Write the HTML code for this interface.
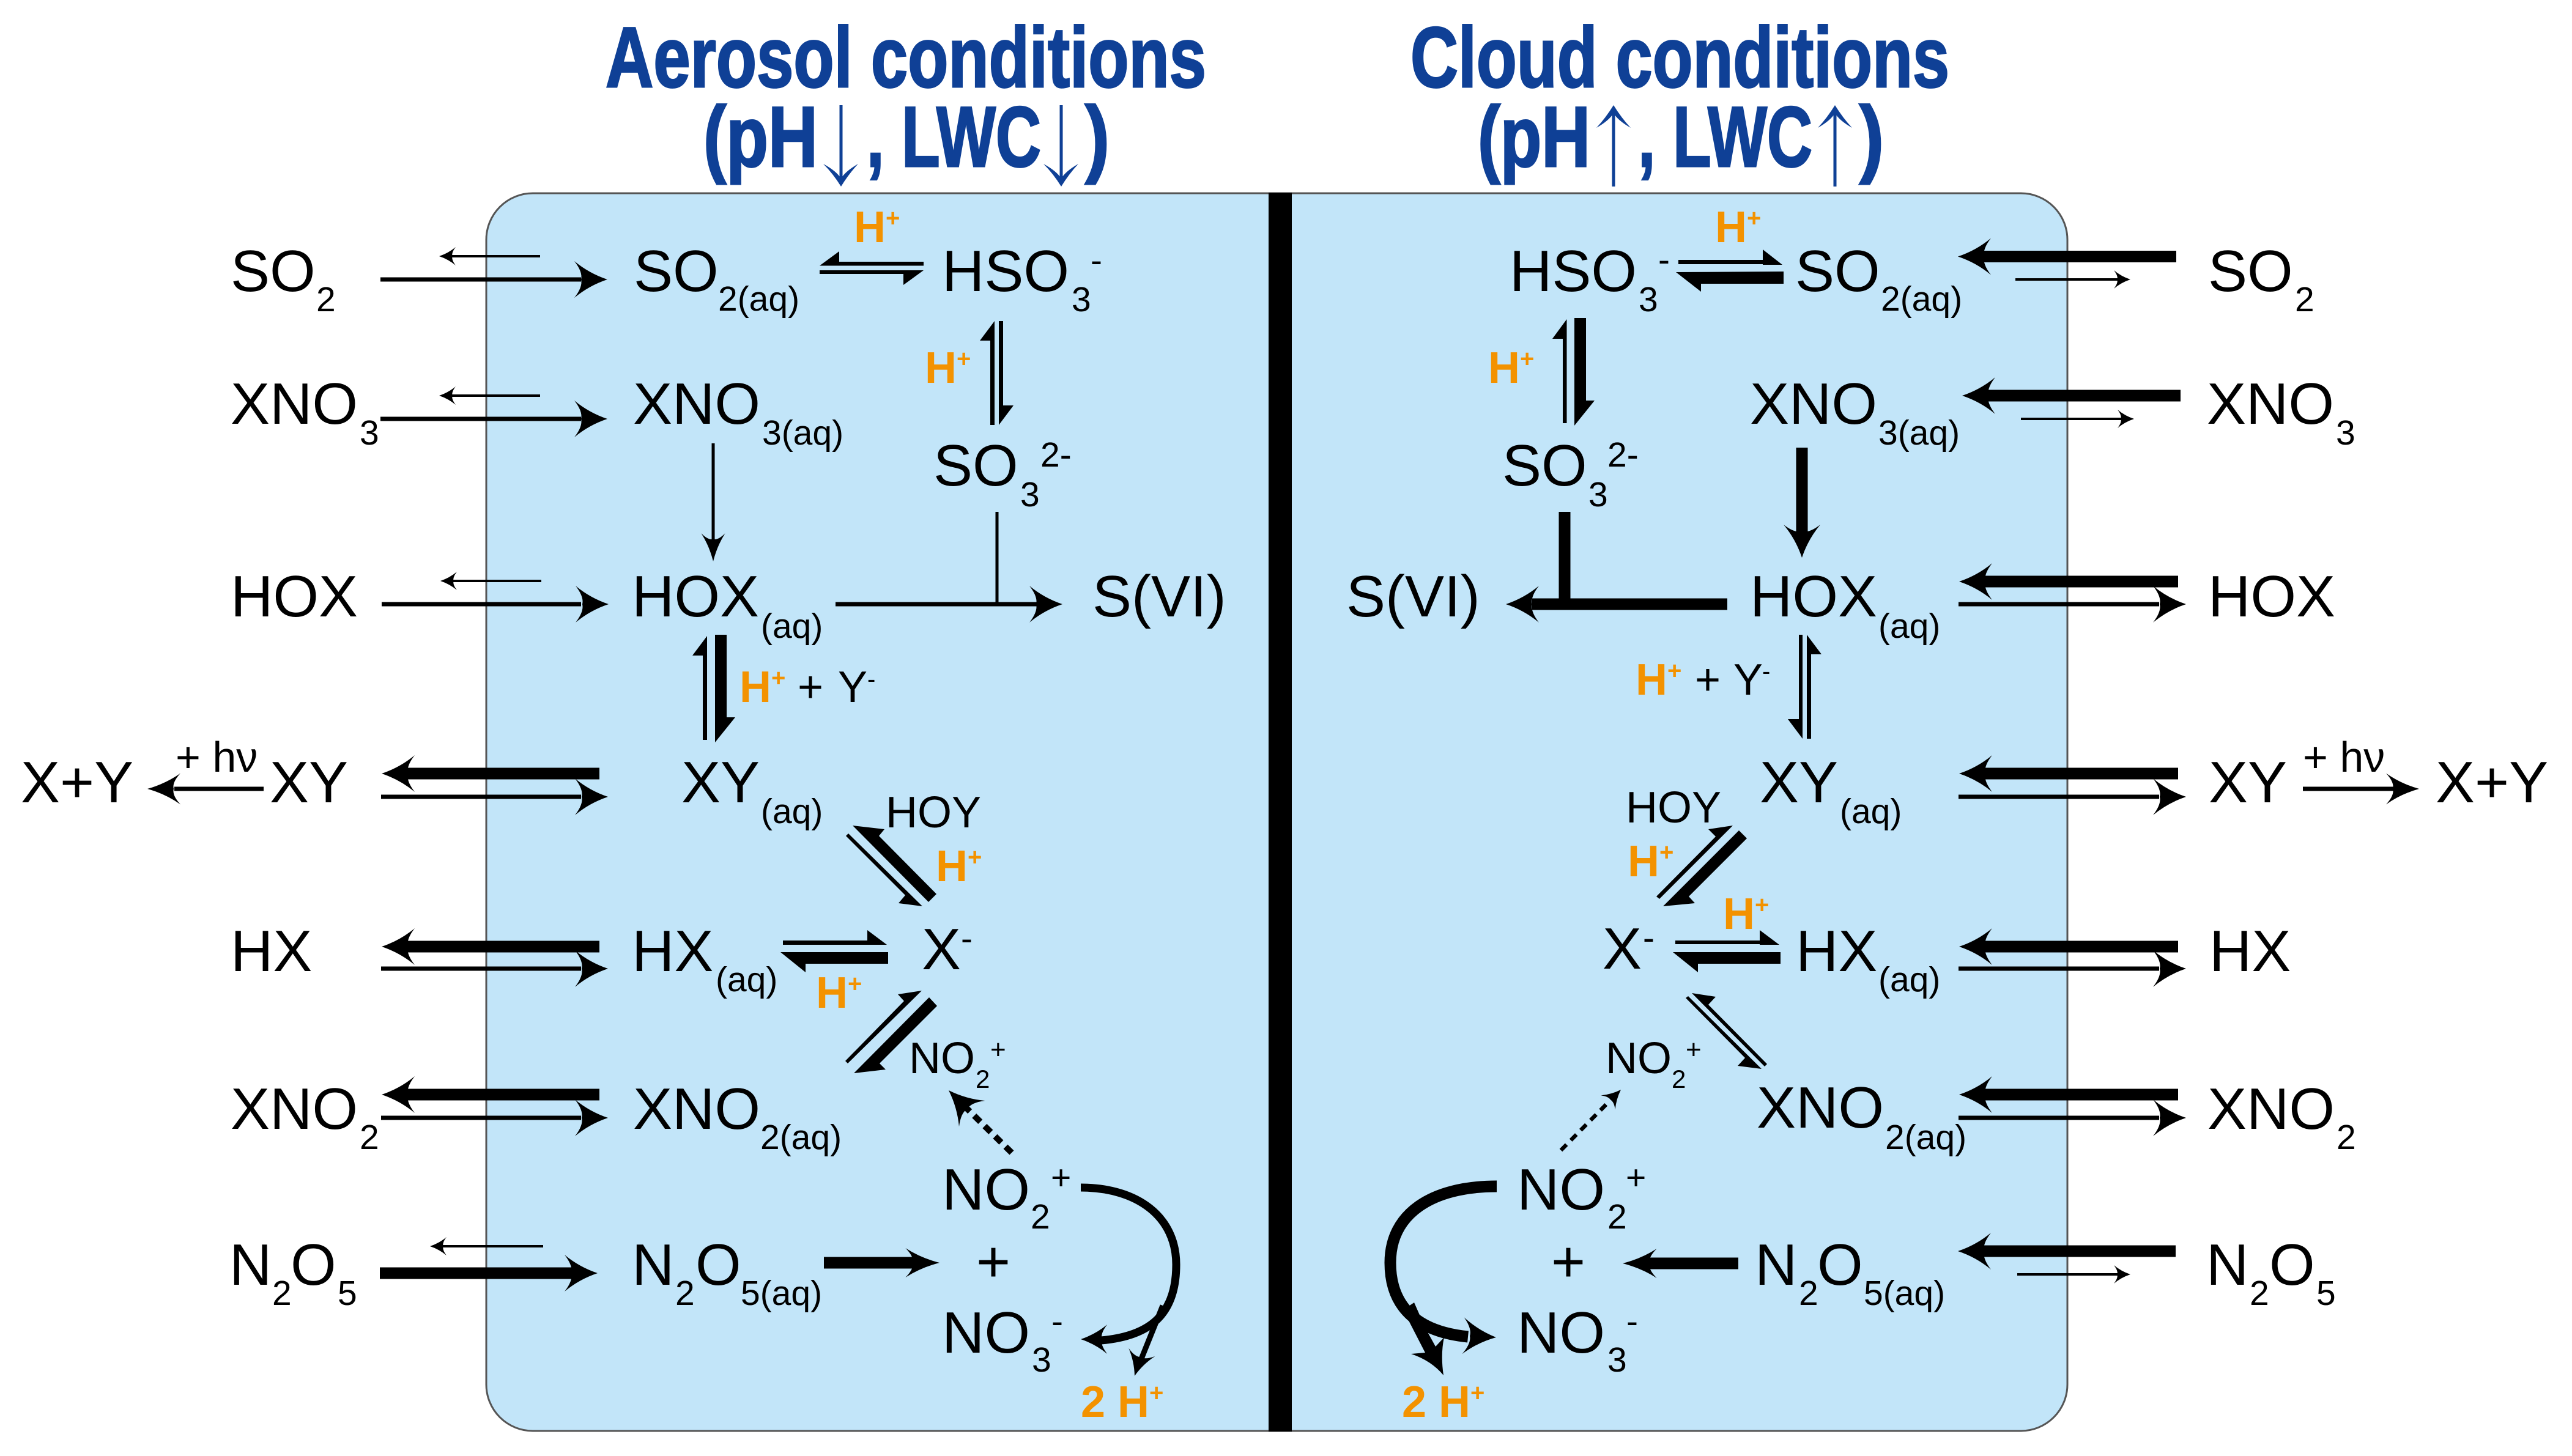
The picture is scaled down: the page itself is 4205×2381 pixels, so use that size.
<!DOCTYPE html>
<html lang="en">
<head>
<meta charset="utf-8">
<title>Aerosol and cloud conditions</title>
<style>
html,body{margin:0;padding:0;background:#fff}
svg{display:block}
text{font-family:"Liberation Sans",sans-serif;fill:#000}
text.m{font-size:96px;transform:translateY(-2px)}
tspan.m{font-size:96px}
.s{font-size:57px}
.n{font-size:72px}
.q{font-size:42px}
.o{font-size:72px;font-weight:700;fill:#f39200}
.p{font-size:40px;font-weight:700;fill:#f39200}
text.t{font-size:140px;font-weight:700;fill:#0f4096;stroke:#0f4096;stroke-width:3;transform:translateY(-2px)}
.a{fill:none;stroke:#000}
.w3{stroke-width:4}
.w7{stroke-width:7}
.w19{stroke-width:19}
.b{fill:none;stroke:#0f4096;stroke-width:5}
.bh{fill:#0f4096}
</style>
</head>
<body>
<svg xmlns="http://www.w3.org/2000/svg" width="4205" height="2381" viewBox="0 0 4205 2381">
<defs>
<path id="h" d="M0,0 Q-30,-10 -54,-30 Q-40,-12 -43,0 Q-40,12 -54,30 Q-30,10 0,0Z"/>
</defs>
<rect width="4205" height="2381" fill="#fff"/>
<rect x="795" y="316" width="2585" height="2024" rx="76" ry="76" fill="#c2e5f9" stroke="#555" stroke-width="3"/>
<rect x="2074" y="315" width="38" height="2026" fill="#000"/>

<!-- titles -->
<text class="t" x="990" y="144" textLength="982" lengthAdjust="spacingAndGlyphs">Aerosol conditions</text>
<text class="t" x="1150" y="274" textLength="187" lengthAdjust="spacingAndGlyphs">(pH</text>
<text class="t" x="1417" y="274" textLength="285" lengthAdjust="spacingAndGlyphs">, LWC</text>
<text class="t" x="1774" y="274" textLength="40" lengthAdjust="spacingAndGlyphs">)</text>
<text class="t" x="2306" y="144" textLength="881" lengthAdjust="spacingAndGlyphs">Cloud conditions</text>
<text class="t" x="2416" y="274" textLength="184" lengthAdjust="spacingAndGlyphs">(pH</text>
<text class="t" x="2678" y="274" textLength="285" lengthAdjust="spacingAndGlyphs">, LWC</text>
<text class="t" x="3040" y="274" textLength="40" lengthAdjust="spacingAndGlyphs">)</text>
<path class="b" d="M1375 172V296M1735 172V296M2638 180V305M3000 180V305"/>
<path class="bh" d="M1375,305 Q1362,284 1346,268 Q1368,280 1375,292 Q1382,280 1403,268 Q1388,284 1375,305Z"/>
<path class="bh" d="M1735,305 Q1722,284 1706,268 Q1728,280 1735,292 Q1742,280 1763,268 Q1748,284 1735,305Z"/>
<path class="bh" d="M2638,172 Q2625,193 2610,209 Q2631,197 2638,185 Q2645,197 2666,209 Q2651,193 2638,172Z"/>
<path class="bh" d="M3000,172 Q2987,193 2972,209 Q2993,197 3000,185 Q3007,197 3028,209 Q3013,193 3000,172Z"/>

<!-- left gas species -->
<text class="m" x="377" y="478">SO<tspan class="s" x="517" y="511">2</tspan></text>
<text class="m" x="377" y="695">XNO<tspan class="s" x="588" y="729">3</tspan></text>
<text class="m" x="377" y="1010">HOX</text>
<text class="m" x="34" y="1314">X+Y</text>
<text class="n" x="287" y="1262" style="font-size:70px">+ hν</text>
<text class="m" x="441" y="1314">XY</text>
<text class="m" x="377" y="1590">HX</text>
<text class="m" x="377" y="1848">XNO<tspan class="s" x="588" y="1881">2</tspan></text>
<text class="m" x="375" y="2103">N<tspan class="s" x="445" y="2136">2</tspan><tspan class="m" x="475" y="2103">O</tspan><tspan class="s" x="552" y="2136">5</tspan></text>

<!-- left aqueous species -->
<text class="m" x="1036" y="478">SO<tspan class="s" x="1174" y="510">2(aq)</tspan></text>
<text class="m" x="1035" y="695">XNO<tspan class="s" x="1246" y="729">3(aq)</tspan></text>
<text class="m" x="1033" y="1010">HOX<tspan class="s" x="1244" y="1045">(aq)</tspan></text>
<text class="m" x="1114" y="1314">XY<tspan class="s" x="1244" y="1348">(aq)</tspan></text>
<text class="m" x="1033" y="1590">HX<tspan class="s" x="1170" y="1623">(aq)</tspan></text>
<text class="m" x="1035" y="1848">XNO<tspan class="s" x="1243" y="1881">2(aq)</tspan></text>
<text class="m" x="1033" y="2103">N<tspan class="s" x="1104" y="2136">2</tspan><tspan class="m" x="1137" y="2103">O</tspan><tspan class="s" x="1211" y="2136">5(aq)</tspan></text>
<text class="m" x="1540" y="478">HSO<tspan class="s" x="1752" y="511">3</tspan><tspan class="s" x="1783" y="447">-</tspan></text>
<text class="m" x="1526" y="796">SO<tspan class="s" x="1668" y="830">3</tspan><tspan class="s" x="1701" y="765">2-</tspan></text>
<text class="m" x="1786" y="1010">S(VI)</text>
<text class="n" x="1448" y="1353">HOY</text>
<text class="m" x="1507" y="1587">X<tspan class="s" x="1571" y="1556">-</tspan></text>
<text class="n" x="1486" y="1755">NO<tspan class="q" x="1595" y="1779">2</tspan><tspan style="font-size:44px" x="1619" y="1731">+</tspan></text>
<text class="m" x="1540" y="1980">NO<tspan class="s" x="1685" y="2011">2</tspan><tspan class="s" x="1718" y="1947">+</tspan></text>
<text class="m" x="1596" y="2098">+</text>
<text class="m" x="1540" y="2214">NO<tspan class="s" x="1687" y="2245">3</tspan><tspan class="s" x="1719" y="2182">-</tspan></text>

<!-- left H+ -->
<text class="o" x="1396" y="396">H<tspan class="p" dy="-26">+</tspan></text>
<text class="o" x="1512" y="626">H<tspan class="p" dy="-26">+</tspan></text>
<text class="o" x="1209" y="1148">H<tspan class="p" dy="-26">+</tspan></text>
<text class="n" x="1304" y="1148">+</text>
<text class="n" x="1370" y="1148">Y</text>
<text x="1418" y="1124" style="font-size:40px">-</text>
<text class="o" x="1530" y="1441">H<tspan class="p" dy="-26">+</tspan></text>
<text class="o" x="1334" y="1648">H<tspan class="p" dy="-26">+</tspan></text>
<text class="o" x="1767" y="2317">2 H<tspan class="p" dy="-26">+</tspan></text>

<!-- right aqueous species -->
<text class="m" x="2468" y="478">HSO<tspan class="s" x="2679" y="511">3</tspan><tspan class="s" x="2711" y="446">-</tspan></text>
<text class="m" x="2935" y="478">SO<tspan class="s" x="3075" y="510">2(aq)</tspan></text>
<text class="m" x="2861" y="695">XNO<tspan class="s" x="3071" y="729">3(aq)</tspan></text>
<text class="m" x="2456" y="796">SO<tspan class="s" x="2597" y="830">3</tspan><tspan class="s" x="2628" y="765">2-</tspan></text>
<text class="m" x="2201" y="1010">S(VI)</text>
<text class="m" x="2861" y="1010">HOX<tspan class="s" x="3071" y="1045">(aq)</tspan></text>
<text class="m" x="2877" y="1314">XY<tspan class="s" x="3008" y="1348">(aq)</tspan></text>
<text class="n" x="2658" y="1345">HOY</text>
<text class="m" x="2620" y="1586">X<tspan class="s" x="2686" y="1555">-</tspan></text>
<text class="m" x="2936" y="1590">HX<tspan class="s" x="3071" y="1623">(aq)</tspan></text>
<text class="n" x="2625" y="1755">NO<tspan class="q" x="2733" y="1779">2</tspan><tspan style="font-size:44px" x="2756" y="1731">+</tspan></text>
<text class="m" x="2872" y="1846">XNO<tspan class="s" x="3082" y="1881">2(aq)</tspan></text>
<text class="m" x="2480" y="1980">NO<tspan class="s" x="2628" y="2011">2</tspan><tspan class="s" x="2658" y="1947">+</tspan></text>
<text class="m" x="2536" y="2098">+</text>
<text class="m" x="2480" y="2214">NO<tspan class="s" x="2628" y="2245">3</tspan><tspan class="s" x="2659" y="2182">-</tspan></text>
<text class="m" x="2869" y="2103">N<tspan class="s" x="2941" y="2136">2</tspan><tspan class="m" x="2971" y="2103">O</tspan><tspan class="s" x="3047" y="2136">5(aq)</tspan></text>

<!-- right gas species -->
<text class="m" x="3610" y="478">SO<tspan class="s" x="3752" y="511">2</tspan></text>
<text class="m" x="3608" y="695">XNO<tspan class="s" x="3819" y="729">3</tspan></text>
<text class="m" x="3610" y="1010">HOX</text>
<text class="m" x="3611" y="1314">XY</text>
<text class="n" x="3765" y="1262" style="font-size:70px">+ hν</text>
<text class="m" x="3982" y="1314">X+Y</text>
<text class="m" x="3612" y="1590">HX</text>
<text class="m" x="3609" y="1848">XNO<tspan class="s" x="3820" y="1881">2</tspan></text>
<text class="m" x="3607" y="2103">N<tspan class="s" x="3678" y="2136">2</tspan><tspan class="m" x="3710" y="2103">O</tspan><tspan class="s" x="3787" y="2136">5</tspan></text>

<!-- right H+ -->
<text class="o" x="2804" y="396">H<tspan class="p" dy="-26">+</tspan></text>
<text class="o" x="2433" y="626">H<tspan class="p" dy="-26">+</tspan></text>
<text class="o" x="2674" y="1136">H<tspan class="p" dy="-26">+</tspan></text>
<text class="n" x="2771" y="1136">+</text>
<text class="n" x="2834" y="1136">Y</text>
<text x="2881" y="1111" style="font-size:40px">-</text>
<text class="o" x="2661" y="1433">H<tspan class="p" dy="-26">+</tspan></text>
<text class="o" x="2817" y="1519">H<tspan class="p" dy="-26">+</tspan></text>
<text class="o" x="2292" y="2317">2 H<tspan class="p" dy="-26">+</tspan></text>

<!-- left exchange arrows: thin -->
<path class="a w3" d="M883 419H735M883 647H735M885 950H737M888 2038H720"/>
<use href="#h" transform="translate(718,419) rotate(180) scale(.5)"/>
<use href="#h" transform="translate(718,647) rotate(180) scale(.5)"/>
<use href="#h" transform="translate(720,950) rotate(180) scale(.5)"/>
<use href="#h" transform="translate(703,2038) rotate(180) scale(.5)"/>
<!-- left medium -->
<path class="a w7" d="M622 457H950M622 685H950M624 988H950M623 1303H950M623 1584H950M623 1828H950M431 1290H285M1366 988H1695"/>
<use href="#h" transform="translate(993,457)"/>
<use href="#h" transform="translate(993,685)"/>
<use href="#h" transform="translate(995,988)"/>
<use href="#h" transform="translate(994,1303)"/>
<use href="#h" transform="translate(994,1584)"/>
<use href="#h" transform="translate(994,1828)"/>
<use href="#h" transform="translate(241,1290) rotate(180) scale(1,.85)"/>
<use href="#h" transform="translate(1737,988)"/>
<path class="a" stroke-width="5" d="M1630 837V988"/>
<path class="a" stroke-width="5" d="M1166 725V885"/>
<use href="#h" transform="translate(1166,918) rotate(90) scale(.85,.65)"/>
<!-- left thick -->
<path class="a w19" d="M980 1265H665M980 1548H665M980 1790H665M621 2082H935M1347 2065H1495"/>
<use href="#h" transform="translate(624,1265) rotate(180)"/>
<use href="#h" transform="translate(624,1548) rotate(180)"/>
<use href="#h" transform="translate(624,1790) rotate(180)"/>
<use href="#h" transform="translate(977,2082)"/>
<use href="#h" transform="translate(1536,2065) scale(1.03,.8)"/>

<!-- left harpoons -->
<path d="M1510 428V434.500H1340L1372 411V428Z"/>
<path d="M1340 442V448H1477V466L1510 442Z"/>
<path d="M1619 695H1626V525L1602 557H1619Z"/>
<path d="M1633 525H1640V663H1657L1633 695Z"/>
<path d="M1149 1210H1156V1040L1132 1072H1149Z"/>
<path d="M1169 1038H1188V1173H1202L1169 1214Z"/>
<path d="M1280 1538H1418V1521L1450 1545H1280Z"/>
<path d="M1452 1557V1576H1317V1590L1276 1557Z"/>
<path d="M1387 1363L1508 1482L1469 1477L1480 1464L1383 1367Z"/>
<path d="M1531 1462L1437 1367L1446 1356L1394 1350L1518 1475Z"/>
<path d="M1382 1735L1386 1739L1507 1620L1468 1626L1478 1637Z"/>
<path d="M1519 1631L1532 1645L1438 1739L1448 1749L1396 1755Z"/>

<!-- left dotted and curves -->
<path class="a" stroke-width="10" stroke-dasharray="14 10" d="M1654 1885L1578 1810"/>
<use href="#h" transform="translate(1551,1783) rotate(225)"/>
<path class="a" stroke-width="13" d="M1767 1942C1860 1942 1923 1990 1923 2068C1923 2150 1880 2185 1800 2192"/>
<use href="#h" transform="translate(1767,2190) rotate(180) scale(.8)"/>
<path class="a" stroke-width="9" d="M1901 2135L1866 2222"/>
<use href="#h" transform="translate(1855,2250) rotate(107) scale(.75)"/>

<!-- right exchange: thick reverse -->
<path class="a w19" d="M3558 419.500H3240M3565 647H3247M3561 951H3242M3561 1265H3242M3561 1548H3242M3561 1790H3242M3557 2046H3240M2946 732V875M2558 837V988M2824 988H2505M2842 2066H2695"/>
<use href="#h" transform="translate(3201,419.500) rotate(180)"/>
<use href="#h" transform="translate(3208,647) rotate(180)"/>
<use href="#h" transform="translate(3203,951) rotate(180)"/>
<use href="#h" transform="translate(3203,1265) rotate(180)"/>
<use href="#h" transform="translate(3203,1548) rotate(180)"/>
<use href="#h" transform="translate(3203,1790) rotate(180)"/>
<use href="#h" transform="translate(3201,2046) rotate(180)"/>
<use href="#h" transform="translate(2946,912) rotate(90)"/>
<use href="#h" transform="translate(2462,988) rotate(180)"/>
<use href="#h" transform="translate(2653,2066) rotate(180) scale(1.03,.8)"/>
<!-- right medium -->
<path class="a w7" d="M3202 988H3530M3202 1303H3530M3202 1584H3530M3202 1828H3530M3765 1290H3915"/>
<use href="#h" transform="translate(3574,988)"/>
<use href="#h" transform="translate(3574,1303)"/>
<use href="#h" transform="translate(3574,1584)"/>
<use href="#h" transform="translate(3574,1828)"/>
<use href="#h" transform="translate(3955,1290) scale(1,.85)"/>
<!-- right thin -->
<path class="a w3" d="M3295 457H3466M3304 685H3472M3298 2084H3466"/>
<use href="#h" transform="translate(3483,457) scale(.5)"/>
<use href="#h" transform="translate(3489,685) scale(.5)"/>
<use href="#h" transform="translate(3483,2084) scale(.5)"/>

<!-- right harpoons -->
<path d="M2744 425V432H2882V433H2914L2882 408V425Z"/>
<path d="M2916 444V464H2781V477L2740 445Z"/>
<path d="M2555 692H2561.500V522L2538 554H2555Z"/>
<path d="M2574 520H2593V655H2607L2574 696Z"/>
<path d="M2941 1038H2947V1208L2923 1176H2941Z"/>
<path d="M2954 1208H2961V1070H2978L2954 1038Z"/>
<path d="M2708 1466L2713 1470L2810 1373L2833 1350L2793 1356L2805 1368Z"/>
<path d="M2843 1358L2856 1371L2761 1466L2771 1477L2719 1482Z"/>
<path d="M2739 1538V1544H2877V1545H2909L2877 1521V1538Z"/>
<path d="M2911 1557V1576H2776V1590L2735 1557Z"/>
<path d="M2760 1629L2880 1748L2841 1743L2853 1730L2756 1632Z"/>
<path d="M2766 1624L2885 1744L2889 1740L2793 1643L2805 1630Z"/>

<!-- right dotted and curves -->
<path class="a" stroke-width="6.500" stroke-dasharray="13 10" d="M2552 1881L2630 1802"/>
<use href="#h" transform="translate(2650,1782) rotate(-45) scale(.55)"/>
<path class="a w19" d="M2447 1940C2340 1940 2273 1985 2273 2065C2273 2140 2320 2178 2400 2186"/>
<use href="#h" transform="translate(2446,2187) rotate(3)"/>
<path d="M2294 2142L2330 2212L2307 2214Q2340 2225 2360 2249Q2355 2215 2361 2187L2347 2202L2331 2173L2312 2130Z"/>
</svg>
</body>
</html>
